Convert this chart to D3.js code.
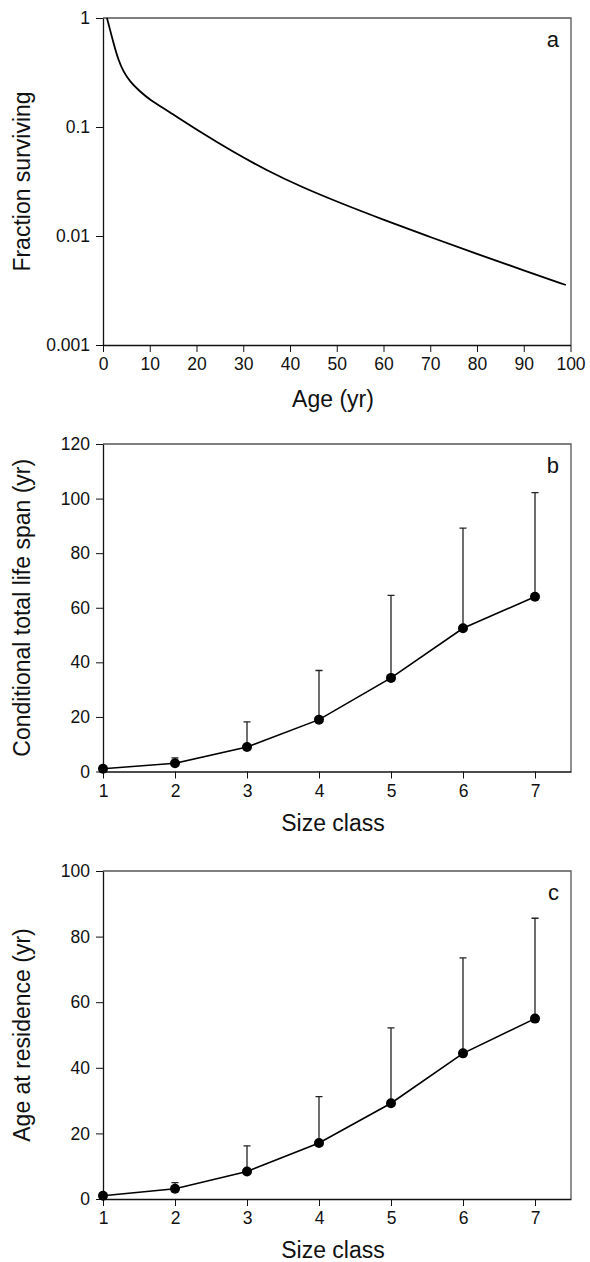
<!DOCTYPE html>
<html>
<head>
<meta charset="utf-8">
<script src="https://cdn.jsdelivr.net/npm/d3@7"></script>
<style>
  body { margin: 0; background: #fff; }
  svg text { font-family: "Liberation Sans", Arial, sans-serif; fill: #111; }
</style>
</head>
<body>
<script>
// panel a: survivorship curve
const ageYears = [0.85, 2.3, 3.3, 4.4, 5.8, 8, 10, 13.7, 20.8, 27.9, 35, 42.2, 50.7, 60, 70, 80, 90, 99];
const fractionSurviving = [1, 0.575, 0.41, 0.32, 0.26, 0.21, 0.178, 0.142, 0.0898, 0.0589, 0.040, 0.0285, 0.0201, 0.0141, 0.00977, 0.00684, 0.00484, 0.00355];
const logTicks = [1, 0.1, 0.01, 0.001];
const ageTicks = [0, 10, 20, 30, 40, 50, 60, 70, 80, 90, 100];

// panels b and c: by size class
const sizeClass = [1, 2, 3, 4, 5, 6, 7];
const lifeSpanMean = [1, 3, 9, 19, 34.3, 52.5, 64];
const lifeSpanUpper = [1.5, 5, 18.2, 37, 64.5, 89.2, 102.2];
const residenceMean = [1, 3.1, 8.4, 17.1, 29.2, 44.4, 55];
const residenceUpper = [1.4, 5, 16.2, 31.2, 52.2, 73.5, 85.6];

const W = 590, H = 1262;
const left = 103, right = 571;

const svg = d3.select('body').append('svg')
  .attr('width', W).attr('height', H);

function frame(g, top, bottom) {
  g.append('path')
    .attr('d', `M${left},${top}H${right}V${bottom}`)
    .attr('fill', 'none').attr('stroke', '#555').attr('stroke-width', 1.3);
}

function styleAxis(a) {
  a.selectAll('.tick line').attr('stroke', '#111');
  a.selectAll('.tick text').attr('font-size', 17.5).attr('fill', '#111');
  a.select('.domain').attr('stroke', '#111').attr('stroke-width', 1.3);
}

function yTitle(text, top, bottom) {
  svg.append('text')
    .attr('transform', `translate(30,${(top + bottom) / 2}) rotate(-90)`)
    .attr('text-anchor', 'middle')
    .attr('font-size', 23)
    .text(text);
}

function xTitle(text, y) {
  svg.append('text')
    .attr('x', (left + right) / 2 - 4).attr('y', y)
    .attr('text-anchor', 'middle')
    .attr('font-size', 23)
    .text(text);
}

function letter(l, y) {
  svg.append('text').attr('x', 559).attr('y', y)
    .attr('text-anchor', 'end').attr('font-size', 22).text(l);
}

// ---- panel a ----
{
  const top = 18, bottom = 345;
  const x = d3.scaleLinear().domain([0, 100]).range([left, right - 0.5]);
  const y = d3.scaleLog().domain([0.001, 1]).range([bottom, top]);
  const g = svg.append('g');
  frame(g, top, bottom);

  const ax = g.append('g').attr('transform', `translate(0,${bottom})`)
    .call(d3.axisBottom(x).tickValues(ageTicks).tickFormat(d3.format('d')).tickSize(7).tickSizeOuter(0).tickPadding(6));
  styleAxis(ax);
  const ay = g.append('g').attr('transform', `translate(${left},0)`)
    .call(d3.axisLeft(y).tickValues(logTicks).tickFormat(d => String(d)).tickSize(7).tickSizeOuter(0).tickPadding(6));
  styleAxis(ay);

  g.append('path')
    .datum(ageYears.map((a, i) => [a, fractionSurviving[i]]))
    .attr('fill', 'none').attr('stroke', '#000').attr('stroke-width', 1.8)
    .attr('d', d3.line().x(d => x(d[0])).y(d => y(d[1])).curve(d3.curveBasis));

  yTitle('Fraction surviving', top, bottom);
  xTitle('Age (yr)', 407);
  letter('a', top + 29);
}

function classPanel(top, bottom, maxY, means, uppers, title, l) {
  const x = d3.scaleLinear().domain([1, 7.5]).range([left, right]);
  const y = d3.scaleLinear().domain([0, maxY]).range([bottom, top]);
  const g = svg.append('g');
  frame(g, top, bottom);

  const ax = g.append('g').attr('transform', `translate(0,${bottom})`)
    .call(d3.axisBottom(x).tickValues(sizeClass).tickFormat(d3.format('d')).tickSize(7).tickSizeOuter(0).tickPadding(6));
  styleAxis(ax);
  const ay = g.append('g').attr('transform', `translate(${left},0)`)
    .call(d3.axisLeft(y).ticks(maxY / 20).tickSize(7).tickSizeOuter(0).tickPadding(6));
  styleAxis(ay);

  const pts = sizeClass.map((c, i) => ({ c, m: means[i], u: uppers[i] }));

  // upper error bars only
  g.selectAll('.err').data(pts).enter().append('path')
    .attr('class', 'err')
    .attr('d', d => `M${x(d.c)},${y(d.m)}V${y(d.u)}M${x(d.c) - 3.5},${y(d.u)}h7`)
    .attr('fill', 'none').attr('stroke', '#222').attr('stroke-width', 1.3);

  g.append('path').datum(pts)
    .attr('fill', 'none').attr('stroke', '#000').attr('stroke-width', 1.6)
    .attr('d', d3.line().x(d => x(d.c)).y(d => y(d.m)));

  g.selectAll('.pt').data(pts).enter().append('circle')
    .attr('class', 'pt')
    .attr('cx', d => x(d.c)).attr('cy', d => y(d.m)).attr('r', 5)
    .attr('fill', '#000');

  yTitle(title, top, bottom);
  xTitle('Size class', bottom + 59);
  letter(l, top + 29);
}

classPanel(444, 771.5, 120, lifeSpanMean, lifeSpanUpper, 'Conditional total life span (yr)', 'b');
classPanel(871, 1199, 100, residenceMean, residenceUpper, 'Age at residence (yr)', 'c');
</script>
</body>
</html>
